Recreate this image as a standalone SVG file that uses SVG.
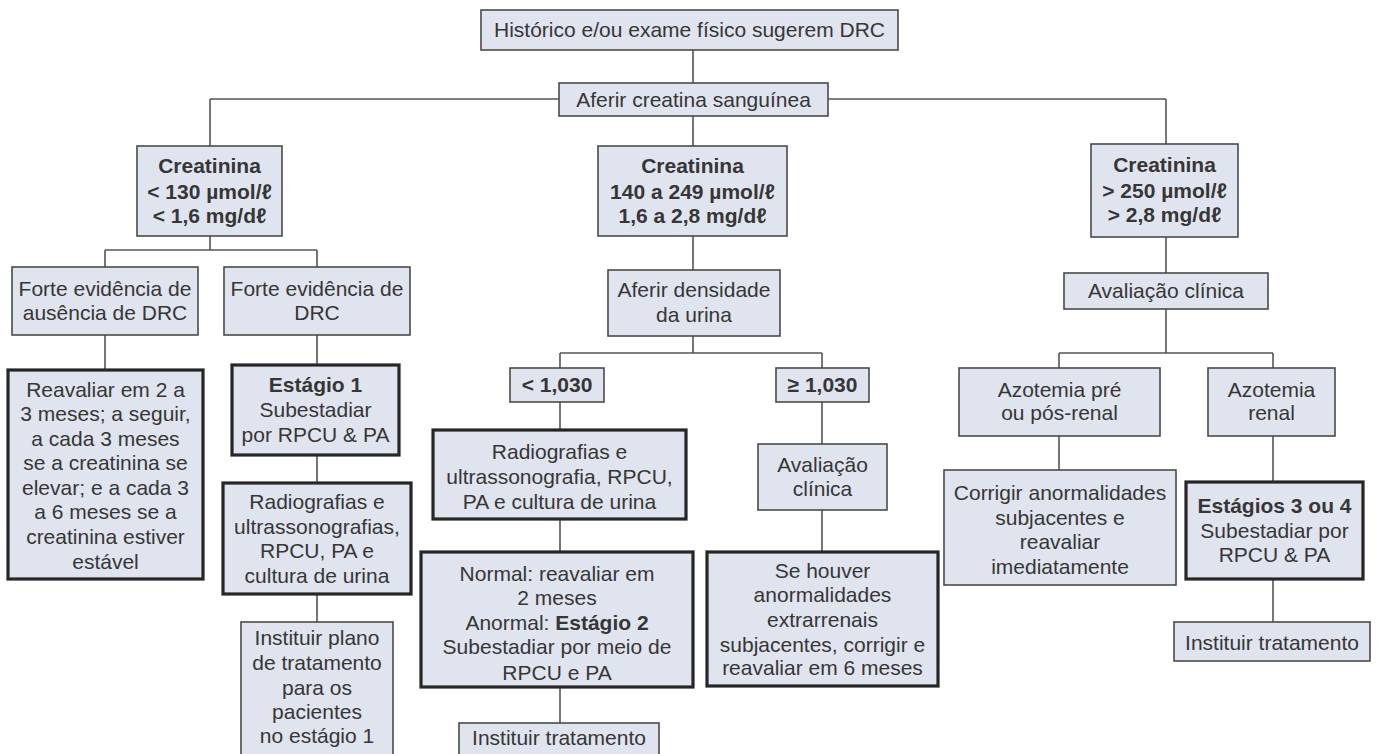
<svg xmlns="http://www.w3.org/2000/svg" width="1379" height="754" viewBox="0 0 1379 754">
<style>
.bx{fill:#e0e4ef;stroke:#4a4a4a;stroke-width:1.6}
.tk{fill:#e0e4ef;stroke:#262626;stroke-width:3.2}
.ln{stroke:#555;stroke-width:1.6;fill:none}
text{font-family:"Liberation Sans",Arial,sans-serif;font-size:21px;fill:#363636;text-anchor:middle}
.b{font-weight:bold}
</style>
<rect width="1379" height="754" fill="#ffffff"/>
<g id="connectors" class="ln">
<path d="M693 50V83"/>
<path d="M210 99H1166"/>
<path d="M210 99V146M693 116V146M1166 99V144"/>
<path d="M210 236V250M105 250H317M105 250V267M317 250V267"/>
<path d="M105 335V370"/>
<path d="M317 335V365M317 455V483M317 594V622"/>
<path d="M693 236V270M693 336V353M560 353H822M560 353V368M822 353V368"/>
<path d="M560 402V430M560 519V552M560 687V723"/>
<path d="M822 402V444M822 510V552"/>
<path d="M1166 237V273M1166 309V353M1059 353H1273M1059 353V368M1273 353V368"/>
<path d="M1059 436V470M1273 436V482M1273 579V622"/>
</g>
<g id="n_top"><rect class="bx" x="481" y="10" width="417" height="40"/><text x="689.5" y="37">Histórico e/ou exame físico sugerem DRC</text></g>
<g id="n_aferir"><rect class="bx" x="559" y="83" width="269" height="33"/><text x="693.5" y="107">Aferir creatina sanguínea</text></g>
<g id="n_c1"><rect class="bx" x="137" y="146" width="145" height="90"/><text class="b"><tspan x="209.5" y="173">Creatinina</tspan><tspan x="209.5" y="199">&lt; 130 µmol/ℓ</tspan><tspan x="209.5" y="223">&lt; 1,6 mg/dℓ</tspan></text></g>
<g id="n_c2"><rect class="bx" x="598" y="146" width="189" height="90"/><text class="b"><tspan x="692.5" y="173">Creatinina</tspan><tspan x="692.5" y="199">140 a 249 µmol/ℓ</tspan><tspan x="692.5" y="223">1,6 a 2,8 mg/dℓ</tspan></text></g>
<g id="n_c3"><rect class="bx" x="1091" y="144" width="147" height="93"/><text class="b"><tspan x="1164.5" y="172">Creatinina</tspan><tspan x="1164.5" y="198">&gt; 250 µmol/ℓ</tspan><tspan x="1164.5" y="222">&gt; 2,8 mg/dℓ</tspan></text></g>
<g id="n_fa"><rect class="bx" x="12" y="267" width="186" height="68"/><text><tspan x="105" y="296">Forte evidência de</tspan><tspan x="105" y="320">ausência de DRC</tspan></text></g>
<g id="n_fd"><rect class="bx" x="224" y="267" width="186" height="68"/><text><tspan x="317" y="296">Forte evidência de</tspan><tspan x="317" y="320">DRC</tspan></text></g>
<g id="n_rea"><rect class="tk" x="8" y="370" width="195" height="209"/><text><tspan x="105.5" y="397">Reavaliar em 2 a</tspan><tspan x="105.5" y="421">3 meses; a seguir,</tspan><tspan x="105.5" y="446">a cada 3 meses</tspan><tspan x="105.5" y="470">se a creatinina se</tspan><tspan x="105.5" y="495">elevar; e a cada 3</tspan><tspan x="105.5" y="519">a 6 meses se a</tspan><tspan x="105.5" y="544">creatinina estiver</tspan><tspan x="105.5" y="569">estável</tspan></text></g>
<g id="n_e1"><rect class="tk" x="232" y="365" width="167" height="90"/><text><tspan class="b" x="315.5" y="392">Estágio 1</tspan><tspan x="315.5" y="417">Subestadiar</tspan><tspan x="315.5" y="442">por RPCU &amp; PA</tspan></text></g>
<g id="n_rad1"><rect class="tk" x="223" y="483" width="188" height="111"/><text><tspan x="317" y="509">Radiografias e</tspan><tspan x="317" y="534">ultrassonografias,</tspan><tspan x="317" y="558">RPCU, PA e</tspan><tspan x="317" y="583">cultura de urina</tspan></text></g>
<g id="n_inst1"><rect class="bx" x="241" y="622" width="152" height="140"/><text><tspan x="317" y="645">Instituir plano</tspan><tspan x="317" y="670">de tratamento</tspan><tspan x="317" y="695">para os</tspan><tspan x="317" y="719">pacientes</tspan><tspan x="317" y="743">no estágio 1</tspan></text></g>
<g id="n_dens"><rect class="bx" x="608" y="270" width="172" height="66"/><text><tspan x="694" y="297">Aferir densidade</tspan><tspan x="694" y="322">da urina</tspan></text></g>
<g id="n_lt"><rect class="bx" x="510" y="368" width="94" height="34"/><text class="b" x="557" y="392">&lt; 1,030</text></g>
<g id="n_ge"><rect class="bx" x="776" y="368" width="93" height="34"/><text class="b" x="822.5" y="392">≥ 1,030</text></g>
<g id="n_rad2"><rect class="tk" x="433" y="430" width="253" height="89"/><text><tspan x="559.5" y="459">Radiografias e</tspan><tspan x="559.5" y="484">ultrassonografia, RPCU,</tspan><tspan x="559.5" y="509">PA e cultura de urina</tspan></text></g>
<g id="n_av2"><rect class="bx" x="758" y="444" width="129" height="66"/><text><tspan x="822.5" y="472">Avaliação</tspan><tspan x="822.5" y="496">clínica</tspan></text></g>
<g id="n_norm"><rect class="tk" x="421" y="552" width="272" height="135"/><text><tspan x="557" y="581">Normal: reavaliar em</tspan><tspan x="557" y="605">2 meses</tspan><tspan x="557" y="630">Anormal: <tspan class="b">Estágio 2</tspan></tspan><tspan x="557" y="654">Subestadiar por meio de</tspan><tspan x="557" y="680">RPCU e PA</tspan></text></g>
<g id="n_se"><rect class="tk" x="707" y="552" width="231" height="134"/><text><tspan x="822.5" y="578">Se houver</tspan><tspan x="822.5" y="602">anormalidades</tspan><tspan x="822.5" y="627">extrarrenais</tspan><tspan x="822.5" y="652">subjacentes, corrigir e</tspan><tspan x="822.5" y="675">reavaliar em 6 meses</tspan></text></g>
<g id="n_inst2"><rect class="bx" x="459" y="723" width="200" height="40"/><text x="559" y="745">Instituir tratamento</text></g>
<g id="n_av3"><rect class="bx" x="1064" y="273" width="204" height="36"/><text x="1166" y="298">Avaliação clínica</text></g>
<g id="n_az1"><rect class="bx" x="959" y="368" width="201" height="68"/><text><tspan x="1059.5" y="397">Azotemia pré</tspan><tspan x="1059.5" y="420">ou pós-renal</tspan></text></g>
<g id="n_az2"><rect class="bx" x="1208" y="368" width="127" height="68"/><text><tspan x="1271.5" y="397">Azotemia</tspan><tspan x="1271.5" y="420">renal</tspan></text></g>
<g id="n_cor"><rect class="bx" x="944" y="470" width="232" height="115"/><text><tspan x="1060" y="500">Corrigir anormalidades</tspan><tspan x="1060" y="525">subjacentes e</tspan><tspan x="1060" y="549">reavaliar</tspan><tspan x="1060" y="574">imediatamente</tspan></text></g>
<g id="n_e34"><rect class="tk" x="1186" y="482" width="177" height="97"/><text><tspan class="b" x="1274.5" y="513">Estágios 3 ou 4</tspan><tspan x="1274.5" y="538">Subestadiar por</tspan><tspan x="1274.5" y="562">RPCU &amp; PA</tspan></text></g>
<g id="n_inst3"><rect class="bx" x="1174" y="622" width="196" height="39"/><text x="1272" y="650">Instituir tratamento</text></g>
</svg>
